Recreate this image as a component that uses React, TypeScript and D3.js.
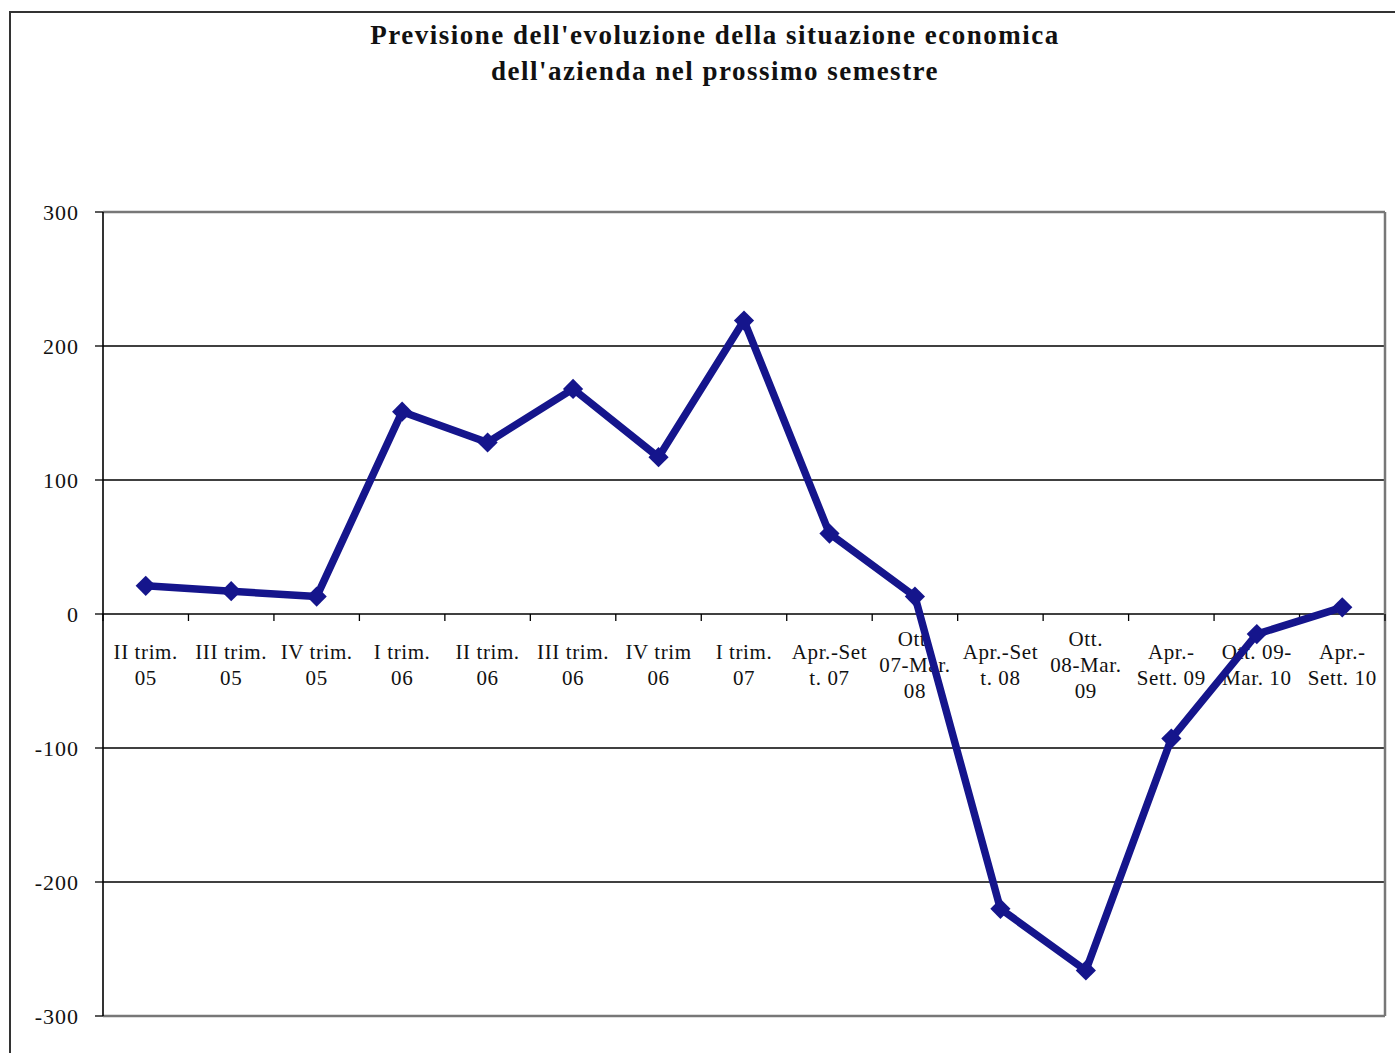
import React from "react";
import * as d3 from "d3";

const titleLines = [
  "Previsione dell'evoluzione della situazione economica",
  "dell'azienda nel prossimo semestre",
];

const categories: string[][] = [
  ["II trim.", "05"],
  ["III trim.", "05"],
  ["IV trim.", "05"],
  ["I trim.", "06"],
  ["II trim.", "06"],
  ["III trim.", "06"],
  ["IV trim", "06"],
  ["I trim.", "07"],
  ["Apr.-Set", "t. 07"],
  ["Ott.", "07-Mar.", "08"],
  ["Apr.-Set", "t. 08"],
  ["Ott.", "08-Mar.", "09"],
  ["Apr.-", "Sett. 09"],
  ["Ott. 09-", "Mar. 10"],
  ["Apr.-", "Sett. 10"],
];

const values = [21, 17, 13, 151, 128, 168, 117, 219, 60, 13, -220, -266, -93, -15, 5];

const yTicks = [300, 200, 100, 0, -100, -200, -300];

const W = 1395;
const H = 1053;
const plot = { left: 103, right: 1385, top: 212, bottom: 1016 };
const FONT = "'Liberation Serif', 'Times New Roman', serif";
const LINE_COLOR = "#15158c";

export default function App() {
  const idx = categories.map((_, i) => String(i));
  const x = d3.scaleBand<string>().domain(idx).range([plot.left, plot.right]).padding(0);
  const y = d3.scaleLinear().domain([-300, 300]).range([plot.bottom, plot.top]);

  const cx = (i: number) => (x(String(i)) as number) + x.bandwidth() / 2;
  const line = d3
    .line<number>()
    .x((_, i) => cx(i))
    .y((d) => y(d));

  const diamond = d3.symbol().type(d3.symbolDiamond2).size(260)() as string;

  const boundaries = d3.range(categories.length + 1).map((k) => plot.left + k * x.bandwidth());
  const y0 = y(0);
  const lineH = 26;

  return (
    <div style={{ position: "fixed", left: 0, top: 0 }}>
      <svg width={W} height={H} style={{ display: "block", background: "#fff" }}>
        {/* outer chart frame */}
        <rect x={10} y={12} width={W + 20} height={H + 20} fill="#fff" stroke="#333" strokeWidth={2} />

        {/* title */}
        {titleLines.map((t, i) => (
          <text
            key={i}
            x={715}
            y={44 + i * 36}
            textAnchor="middle"
            fontFamily={FONT}
            fontWeight="bold"
            fontSize={27}
            letterSpacing={1.5}
            fill="#111"
          >
            {t}
          </text>
        ))}

        {/* horizontal gridlines */}
        {yTicks.map((t) => {
          const edge = t === 300 || t === -300;
          return (
            <line
              key={t}
              x1={plot.left}
              x2={plot.right}
              y1={y(t)}
              y2={y(t)}
              stroke={edge ? "#777" : "#000"}
              strokeWidth={edge ? 2.5 : 1.3}
            />
          );
        })}
        {/* right plot border */}
        <line x1={plot.right} x2={plot.right} y1={plot.top} y2={plot.bottom} stroke="#777" strokeWidth={2.5} />

        {/* y axis */}
        <line x1={plot.left} x2={plot.left} y1={plot.top} y2={plot.bottom} stroke="#000" strokeWidth={1.6} />
        {yTicks.map((t) => (
          <g key={"yt" + t}>
            <line x1={plot.left - 8} x2={plot.left} y1={y(t)} y2={y(t)} stroke="#000" strokeWidth={1.3} />
            <text
              x={79}
              y={y(t) + 8}
              textAnchor="end"
              fontFamily={FONT}
              fontSize={22}
              letterSpacing={1}
              fill="#111"
            >
              {t}
            </text>
          </g>
        ))}

        {/* category ticks on the zero line */}
        {boundaries.map((bx, k) => (
          <line key={"xt" + k} x1={bx} x2={bx} y1={y0} y2={y0 + 7} stroke="#000" strokeWidth={1.3} />
        ))}

        {/* category labels */}
        {categories.map((lines, i) => {
          const startY = 665 - ((lines.length - 1) * lineH) / 2 + 7;
          return (
            <text key={"c" + i} textAnchor="middle" fontFamily={FONT} fontSize={21} letterSpacing={0.6} fill="#111">
              {lines.map((l, j) => (
                <tspan key={j} x={cx(i)} y={startY + j * lineH}>
                  {l}
                </tspan>
              ))}
            </text>
          );
        })}

        {/* series */}
        <path d={line(values) as string} fill="none" stroke={LINE_COLOR} strokeWidth={7.5} strokeLinejoin="round" />
        {values.map((v, i) => (
          <path key={"m" + i} d={diamond} transform={`translate(${cx(i)},${y(v)})`} fill={LINE_COLOR} />
        ))}
      </svg>
    </div>
  );
}
